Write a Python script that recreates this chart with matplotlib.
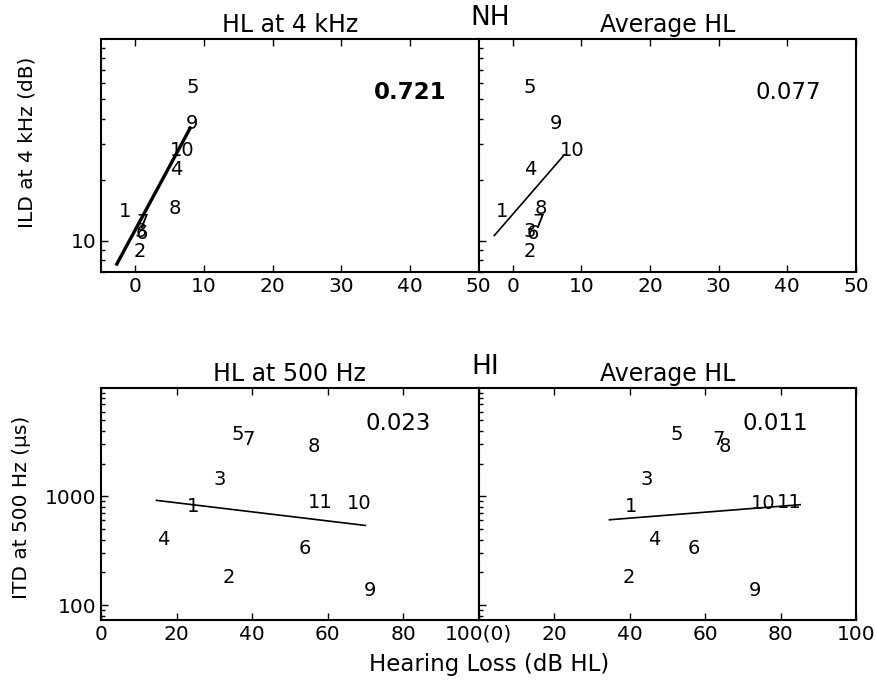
import matplotlib
matplotlib.use("Agg")
import matplotlib.pyplot as plt
from matplotlib.ticker import FuncFormatter, LogLocator, NullFormatter

# NH listeners: ILD at 4 kHz vs hearing loss
nh_ids = ["1", "2", "3", "4", "5", "6", "7", "8", "9", "10"]
nh_hl4k = [-1.5, 0.7, 0.8, 6.0, 8.4, 0.9, 1.0, 5.7, 8.25, 6.8]
nh_avg = [-1.5, 2.5, 2.5, 2.5, 2.5, 2.9, 3.7, 4.1, 6.3, 8.7]
nh_ild = [14.0, 8.8, 11.1, 22.6, 57.0, 10.8, 12.3, 14.4, 37.9, 27.9]

# HI listeners: ITD at 500 Hz vs hearing loss
hi_ids = ["1", "2", "3", "4", "5", "6", "7", "8", "9", "10", "11"]
hi_hl500 = [24.4, 33.9, 31.5, 16.5, 36.3, 54.0, 39.0, 56.4, 71.2, 68.3, 58.1]
hi_avg = [40.4, 39.9, 44.6, 46.6, 52.6, 57.1, 63.6, 65.3, 73.1, 75.3, 82.3]
hi_itd = [800, 180, 1426, 398, 3717, 334, 3330, 2896, 135, 851, 885]

# regression line ends (x, y) per panel
fit_nh_hl4k = ([-2.7, 8.0], [7.66, 36.1])
fit_nh_avg = ([-2.7, 7.5], [10.6, 26.6])
fit_hi_hl500 = ([14.7, 70.0], [918, 540])
fit_hi_avg = ([34.7, 85.2], [609, 838])

r2_values = ["0.721", "0.077", "0.023", "0.011"]

plt.rcParams["font.family"] = "DejaVu Sans"
plt.rcParams["xtick.direction"] = "in"
plt.rcParams["ytick.direction"] = "in"

fig = plt.figure(figsize=(8.76, 6.81), dpi=100)

W, H = 876.0, 681.0


def box(l, t, r, b):
    return [l / W, 1 - b / H, (r - l) / W, (b - t) / H]


ax_tl = fig.add_axes(box(101, 39, 478.5, 272))
ax_tr = fig.add_axes(box(478.5, 39, 856, 272))
ax_bl = fig.add_axes(box(101, 388, 478.5, 620))
ax_br = fig.add_axes(box(478.5, 388, 856, 620))

plain = FuncFormatter(lambda v, p: "%d" % round(v))

panels = [
    (ax_tl, nh_hl4k, nh_ild, nh_ids, fit_nh_hl4k, r2_values[0], "HL at 4 kHz", 2.4),
    (ax_tr, nh_avg, nh_ild, nh_ids, fit_nh_avg, r2_values[1], "Average HL", 1.2),
    (ax_bl, hi_hl500, hi_itd, hi_ids, fit_hi_hl500, r2_values[2], "HL at 500 Hz", 1.2),
    (ax_br, hi_avg, hi_itd, hi_ids, fit_hi_avg, r2_values[3], "Average HL", 1.2),
]

for i, (ax, xs, ys, ids, fit, r2, title, lw) in enumerate(panels):
    ax.set_yscale("log")
    for x, y, s in zip(xs, ys, ids):
        ax.text(x, y, s, ha="center", va="center", fontsize=14)
    ax.plot(fit[0], fit[1], color="black", lw=lw)
    bold = "bold" if i == 0 else "normal"
    ax.text(0.82 if i < 2 else 0.786, 0.77 if i < 2 else 0.845, r2,
            transform=ax.transAxes, ha="center", va="center",
            fontsize=16.5, fontweight=bold)
    ax.set_title(title, fontsize=17, pad=5)
    for sp in ax.spines.values():
        sp.set_linewidth(1.5)
    ax.tick_params(which="major", length=5, width=1, labelsize=14.5,
                   top=True, right=False)
    ax.tick_params(which="minor", length=3, width=1, right=False)
    ax.tick_params(axis="x", which="minor", bottom=False, top=False)
    ax.yaxis.set_major_locator(LogLocator(base=10))
    ax.yaxis.set_minor_locator(LogLocator(base=10, subs=range(2, 10)))
    ax.yaxis.set_major_formatter(plain)
    ax.yaxis.set_minor_formatter(NullFormatter())

for ax in (ax_tl, ax_tr):
    ax.set_xlim(-5, 50)
    ax.set_ylim(7, 99.5)
    ax.set_xticks([0, 10, 20, 30, 40, 50])

for ax in (ax_bl, ax_br):
    ax.set_xlim(0, 100)
    ax.set_ylim(73, 9900)
    ax.set_xticks([0, 20, 40, 60, 80, 100])

ax_bl.set_xticklabels(["0", "20", "40", "60", "80", ""])
ax_br.set_xticklabels(["100(0)", "20", "40", "60", "80", "100"])

for ax in (ax_tr, ax_br):
    ax.tick_params(axis="y", which="both", labelleft=False)

fig.text(490 / W, 1 - 18 / H, "NH", ha="center", va="center", fontsize=19)
fig.text(485 / W, 1 - 367 / H, "HI", ha="center", va="center", fontsize=19)
fig.text(27 / W, 1 - 142 / H, "ILD at 4 kHz (dB)", rotation=90,
         ha="center", va="center", fontsize=14.5)
fig.text(22 / W, 1 - 507 / H, "ITD at 500 Hz (\u00b5s)", rotation=90,
         ha="center", va="center", fontsize=14.5)
fig.text(489 / W, 1 - 665 / H, "Hearing Loss (dB HL)", ha="center",
         va="center", fontsize=16.5)

fig.savefig("out.png", dpi=100)
